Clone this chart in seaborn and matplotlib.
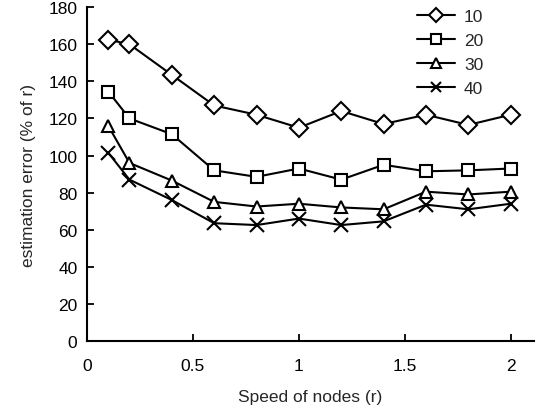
import pandas as pd
import matplotlib
matplotlib.use('Agg')
import matplotlib.pyplot as plt
import seaborn as sns

# values
speed = [0.1, 0.2, 0.4, 0.6, 0.8, 1.0, 1.2, 1.4, 1.6, 1.8, 2.0]
err_10 = [162.5, 160, 143.5, 127, 122, 115, 124, 117, 122, 116.5, 122]
err_20 = [134.5, 120, 111.5, 92, 88.5, 93, 87, 95, 91.5, 92, 93]
err_30 = [116, 96, 86.5, 75, 72.5, 74, 72, 71, 80.5, 79, 80.5]
err_40 = [101.5, 87, 76, 63.5, 62.5, 66, 62.5, 64.5, 73.5, 71, 74]
series_names = ['10', '20', '30', '40']
series_markers = ['D', 's', '^', 'x']

sns.set_theme(style='white')
plt.rcParams['font.family'] = ['Liberation Sans', 'DejaVu Sans']

fig = plt.figure(figsize=(5.41, 4.10), dpi=100)
ax = fig.add_axes([0.161, 0.166, 0.826, 0.814])

for name, vals, mk in zip(series_names, [err_10, err_20, err_30, err_40], series_markers):
    df = pd.DataFrame({'speed': speed, 'err': vals})
    sns.lineplot(data=df, x='speed', y='err', ax=ax, color='black', lw=1.5,
                 marker=mk, markersize=9 if mk != 'x' else 10,
                 markerfacecolor='white', markeredgecolor='black',
                 markeredgewidth=1.5, label=name)

ax.set_xlim(0, 2.11)
ax.set_ylim(0, 180)
ax.set_xticks([0, 0.5, 1, 1.5, 2])
ax.set_xticklabels(['0', '0.5', '1', '1.5', '2'])
ax.set_yticks(range(0, 181, 20))
sns.despine(ax=ax)
for s in ['left', 'bottom']:
    ax.spines[s].set_color('black')
    ax.spines[s].set_linewidth(1.5)
ax.tick_params(direction='in', length=5, width=1.3, colors='black',
               labelsize=12.5, left=True, bottom=True)
ax.tick_params(axis='x', pad=12)
ax.tick_params(axis='y', pad=7)

ax.set_xlabel('Speed of nodes (r)', fontsize=12.5, labelpad=12)
ax.set_ylabel('estimation error (% of r)', fontsize=12.5, labelpad=9)

leg = ax.legend(loc='upper left', bbox_to_anchor=(0.771, 0.975),
                bbox_transform=fig.transFigure, frameon=False,
                fontsize=12.5, markerscale=0.75, handlelength=2.2,
                labelspacing=0.5, handletextpad=0.5,
                borderpad=0, borderaxespad=0)

fig.savefig('out.png', dpi=100)
